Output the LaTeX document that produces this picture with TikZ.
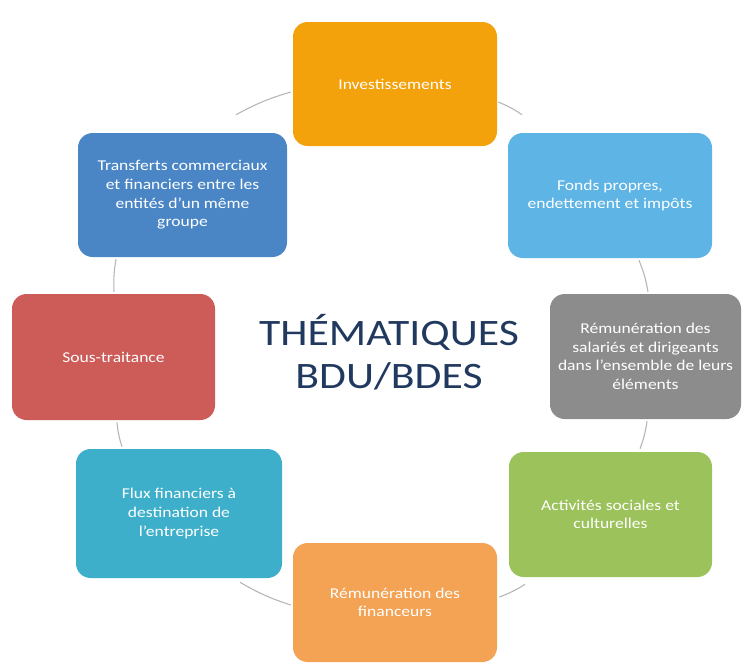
\documentclass[tikz,border=0pt]{standalone}
\usepackage{fontspec}
\setmainfont{Carlito}
\newfontfamily\boxfontfam{Carlito}[FakeStretch=1.17]
\usetikzlibrary{calc}
\definecolor{cInv}{HTML}{F4A20C}
\definecolor{cFonds}{HTML}{5DB4E5}
\definecolor{cSal}{HTML}{8C8C8C}
\definecolor{cAct}{HTML}{9CC25B}
\definecolor{cFin}{HTML}{F4A253}
\definecolor{cFlux}{HTML}{3DAFCB}
\definecolor{cSous}{HTML}{CD5B57}
\definecolor{cTransf}{HTML}{4A86C6}
\definecolor{cTitle}{HTML}{22395F}
\definecolor{cConn}{HTML}{B8B4B4}
\tikzset{
  box/.style={rounded corners=11pt, draw=none, text=white, align=center, inner sep=0pt,
    font=\boxfontfam\fontsize{11.25}{14}\selectfont},
  sz/.style 2 args={minimum width=#1*0.75pt, minimum height=#2*0.75pt},
  conn/.style={draw=cConn, line width=0.8pt},
  titletext/.style={text=cTitle, align=center, font=\boxfontfam\fontsize{28}{32}\selectfont}
}
\begin{document}
\begin{tikzpicture}[x=0.75pt, y=-0.75pt]
\fill[white] (0,0) rectangle (743,662);
\useasboundingbox (0,0) rectangle (743,662);

\node[box, sz={204}{124}, fill=cInv] (inv) at (395,84) {Investissements};
\node[box, sz={204}{125}, fill=cFonds] (fonds) at (610,195.5) {Fonds propres,\\endettement et impôts};
\node[box, sz={191}{125}, fill=cSal] (remsal) at (645.5,356.5) {Rémunération des\\salariés et dirigeants\\dans l’ensemble de leurs\\éléments};
\node[box, sz={203}{125}, fill=cAct] (activ) at (610.5,514.5) {Activités sociales et\\culturelles};
\node[box, sz={204}{119}, fill=cFin] (remfin) at (395,602.5) {Rémunération des\\financeurs};
\node[box, sz={206}{129}, fill=cFlux] (flux) at (179,513.5) {Flux financiers à\\destination de\\l’entreprise};
\node[box, sz={203}{126}, fill=cSous] (sous) at (113.5,357) {Sous-traitance};
\node[box, sz={209}{124}, fill=cTransf] (transf) at (182.5,195) {Transferts commerciaux\\et financiers entre les\\entités d’un même\\groupe};

\node[titletext] (title) at (389,352) {THÉMATIQUES\\BDU/BDES};

\draw[conn] ($(transf.north)+(53.5,-18)$) to[bend left=6] ($(inv.west)+(-2,8)$);
\draw[conn] ($(inv.east)+(1,18)$) to[bend left=6] ($(fonds.north)+(-88,-18)$);
\draw[conn] ($(fonds.south)+(29,2)$) to[bend left=6] ($(remsal.north)+(2.5,-2)$);
\draw[conn] ($(remsal.south)+(1.5,2)$) to[bend left=6] ($(activ.north)+(29.5,-3)$);
\draw[conn] ($(activ.south)+(-85.5,7)$) to[bend left=6] ($(remfin.east)+(2,-5.5)$);
\draw[conn] ($(remfin.west)+(-2,2.5)$) to[bend left=6] ($(flux.south)+(61,4)$);
\draw[conn] ($(flux.north)+(-57,-2)$) to[bend left=6] ($(sous.south)+(3.5,2)$);
\draw[conn] ($(sous.north)+(0.5,-2)$) to[bend left=6] ($(transf.south)+(-66.5,2)$);
\end{tikzpicture}
\end{document}
